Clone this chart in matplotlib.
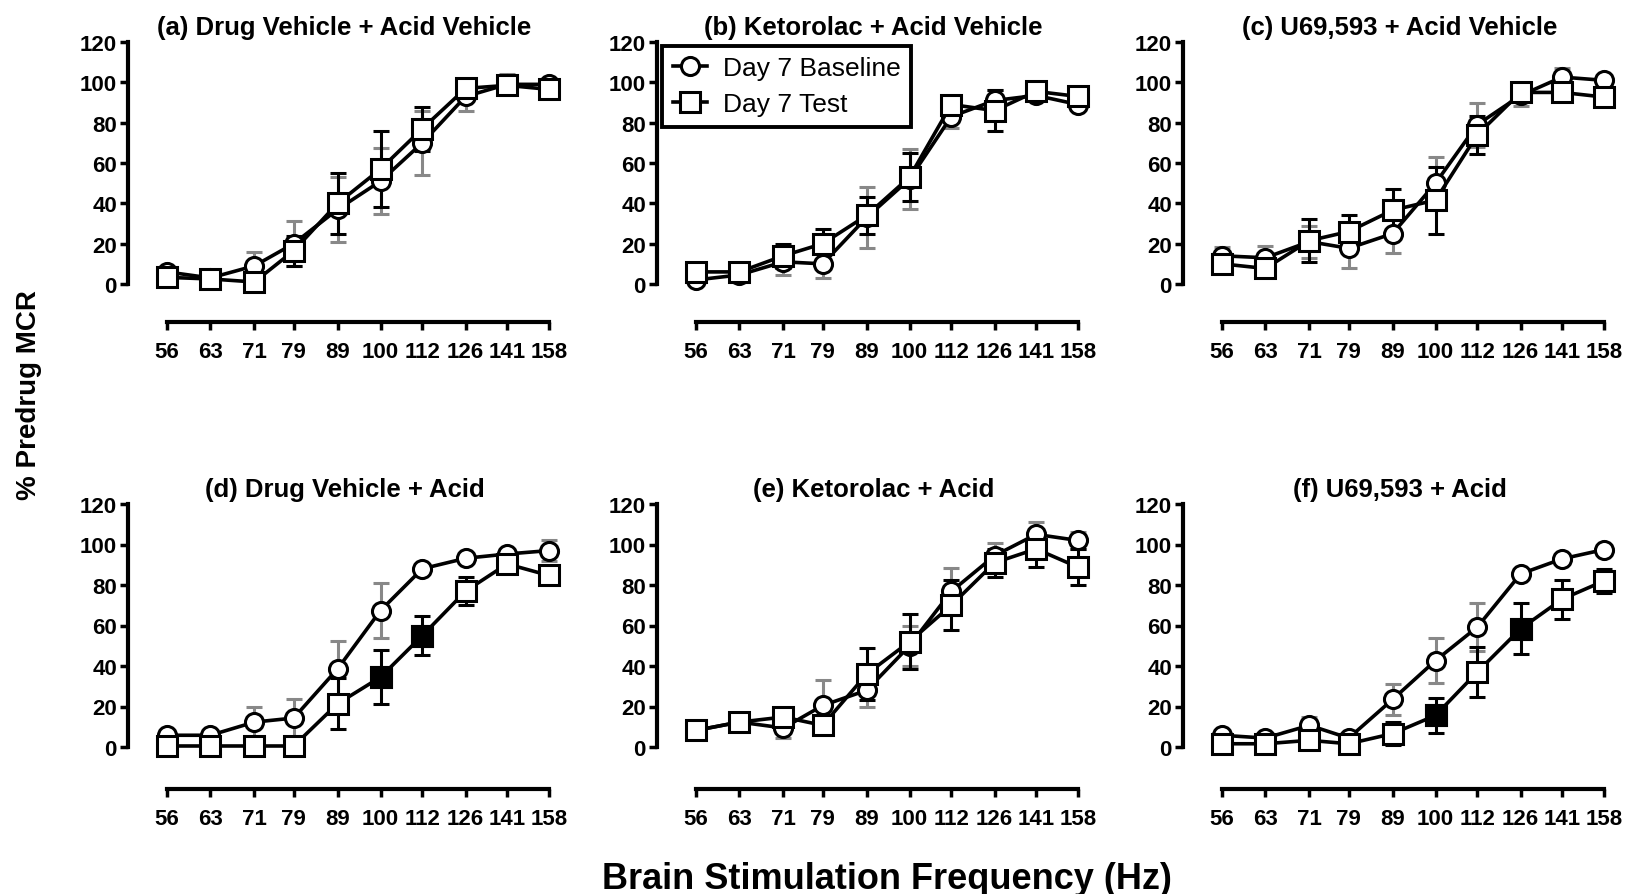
import numpy as np
import matplotlib
matplotlib.use("Agg")
import matplotlib.pyplot as plt
from matplotlib.lines import Line2D

plt.rcParams["font.family"] = ["Liberation Sans", "DejaVu Sans"]
plt.rcParams["font.weight"] = "bold"

# frequencies (Hz)
freq = [56, 63, 71, 79, 89, 100, 112, 126, 141, 158]

titles = ["(a) Drug Vehicle + Acid Vehicle", "(b) Ketorolac + Acid Vehicle",
          "(c) U69,593 + Acid Vehicle", "(d) Drug Vehicle + Acid",
          "(e) Ketorolac + Acid", "(f) U69,593 + Acid"]

# Day 7 baseline means and SEM
base_a = [6, 3, 9, 20, 37, 51, 70, 93, 99, 99]
base_a_err = [1, 1, 7, 11, 16, 16.5, 16, 7, 5, 2]
base_b = [2, 4.5, 11, 10, 33, 52, 83, 91, 93.5, 89]
base_b_err = [1, 2, 6.5, 7, 15, 15, 5.5, 5, 2, 2]
base_c = [14, 13, 21, 17.7, 25, 50, 79, 93.5, 102.6, 101]
base_c_err = [4.5, 6, 8, 9.7, 9.5, 13, 11, 5, 4.5, 2]
base_d = [5.8, 5.8, 12.3, 14.3, 38.6, 67.4, 88, 93.2, 95.3, 97]
base_d_err = [1, 1, 7.4, 9.5, 13.7, 13.5, 2, 2, 2, 5]
base_e = [8.2, 12.3, 9.4, 20.5, 28, 50, 76.8, 94.5, 105, 102]
base_e_err = [1, 1, 5, 12.4, 8.3, 10, 11.6, 6, 6, 4.4]
base_f = [5.8, 4.4, 10.7, 4.4, 23.5, 42.7, 59.2, 85.5, 92.9, 97.5]
base_f_err = [1, 1, 4, 1, 7.5, 11, 12, 2, 2, 2]

# Day 7 test means and SEM
test_a = [3.3, 2.5, 1, 16.5, 40, 57, 77, 97, 98.5, 96.5]
test_a_err = [1, 1, 1, 7.5, 15, 19, 11, 3, 3, 2]
test_b = [6, 6, 14, 20, 34, 53, 89, 86, 95.5, 93]
test_b_err = [2, 3, 6, 7.5, 9, 12, 3, 10, 2, 2]
test_c = [10, 7.7, 21.5, 26, 36.6, 41.6, 74, 95, 95, 92.7]
test_c_err = [3, 3, 10.5, 8, 10.5, 16.6, 9.5, 3, 3, 2]
test_d = [0.5, 0.5, 0.5, 0.5, 21.4, 34.5, 55, 77, 90.4, 84.7]
test_d_err = [0.5, 0.5, 0.5, 0.5, 12.7, 13.2, 9.7, 7, 2, 2]
test_e = [8.2, 12.3, 14.8, 10.7, 36, 52, 70, 91, 97.8, 88.8]
test_e_err = [1, 1, 2, 2, 13, 13.7, 12.3, 7, 9, 9]
test_f = [1.6, 1.6, 3.3, 1.6, 6.6, 15.6, 37, 58.4, 73, 82]
test_f_err = [1, 1, 1, 1, 5.5, 8.5, 12.5, 12.7, 9.7, 6]

# points marked significant (filled squares)
filled_d = [5, 6]
filled_f = [5, 7]

baselines = [(base_a, base_a_err), (base_b, base_b_err), (base_c, base_c_err),
             (base_d, base_d_err), (base_e, base_e_err), (base_f, base_f_err)]
tests = [(test_a, test_a_err), (test_b, test_b_err), (test_c, test_c_err),
         (test_d, test_d_err), (test_e, test_e_err), (test_f, test_f_err)]
filled = [[], [], [], filled_d, [], filled_f]

W, H = 1628, 895
fig = plt.figure(figsize=(W / 100, H / 100), dpi=100)

lefts = [128, 657, 1183]
rows = [(41, 323, 285, 43), (503, 790, 748, 505)]  # top, spine, y0, y120
pre, span, post = 39, 382, 12
ppd = span / np.log10(158 / 56)

for i in range(6):
    r, c = divmod(i, 3)
    top, bot, y0, y120 = rows[r]
    L = lefts[c]
    ax = fig.add_axes([L / W, 1 - bot / H, (pre + span + post) / W, (bot - top) / H])
    ax.set_xscale("log")
    ax.set_xlim(56 / 10 ** (pre / ppd), 158 * 10 ** (post / ppd))
    ppu = (y0 - y120) / 120
    ax.set_ylim(-(bot - y0) / ppu, 120 + (y120 - top) / ppu)

    b, be = baselines[i]
    t, te = tests[i]
    ax.errorbar(freq, b, yerr=be, fmt="none", ecolor="#888888", elinewidth=2.2,
                capsize=6, capthick=2.2, zorder=2)
    ax.errorbar(freq, t, yerr=te, fmt="none", ecolor="black", elinewidth=2.2,
                capsize=6, capthick=2.2, zorder=3)
    ax.plot(freq, b, "-o", color="black", lw=2.6, ms=13, mfc="white", mec="black",
            mew=2.2, zorder=4, clip_on=False)
    ax.plot(freq, t, "-s", color="black", lw=2.6, ms=14, mfc="white", mec="black",
            mew=2.2, zorder=5, clip_on=False)
    if filled[i]:
        ax.plot([freq[k] for k in filled[i]], [t[k] for k in filled[i]], "s",
                ms=14, mfc="black", mec="black", mew=2.2, zorder=6)

    for s in ["top", "right"]:
        ax.spines[s].set_visible(False)
    ax.spines["left"].set_bounds(0, 120)
    ax.spines["bottom"].set_bounds(56, 158)
    ax.spines["left"].set_linewidth(3)
    ax.spines["bottom"].set_linewidth(3)
    ax.set_yticks([0, 20, 40, 60, 80, 100, 120])
    ax.set_xticks(freq)
    ax.set_xticklabels([str(f) for f in freq])
    ax.xaxis.set_minor_locator(plt.NullLocator())
    ax.tick_params(axis="both", direction="out", length=6, width=2.5, labelsize=16)
    ax.tick_params(axis="x", pad=8)
    ax.tick_params(axis="y", pad=2)
    ax.set_title(titles[i], fontsize=18.5, fontweight="bold", pad=4)

    if i == 1:
        h1 = Line2D([], [], color="black", lw=2.6, marker="o", ms=13, mfc="white", mew=2.2)
        h2 = Line2D([], [], color="black", lw=2.6, marker="s", ms=14, mfc="white", mew=2.2)
        leg = ax.legend([h1, h2], ["Day 7 Baseline", "Day 7 Test"], loc="upper left",
                        bbox_to_anchor=(0.012, 0.98), borderaxespad=0, fancybox=False,
                        framealpha=1, edgecolor="black", handlelength=1.3,
                        handletextpad=0.6, borderpad=0.4, labelspacing=0.45,
                        prop={"size": 19, "weight": "normal"})
        leg.get_frame().set_linewidth(2.8)

fig.text(0.018, 0.559, "% Predrug MCR", rotation=90, ha="center", va="center",
         fontsize=20, fontweight="bold")
fig.text(0.545, 0.017, "Brain Stimulation Frequency (Hz)", ha="center", va="center",
         fontsize=26, fontweight="bold")

fig.savefig("out.png", dpi=100)
